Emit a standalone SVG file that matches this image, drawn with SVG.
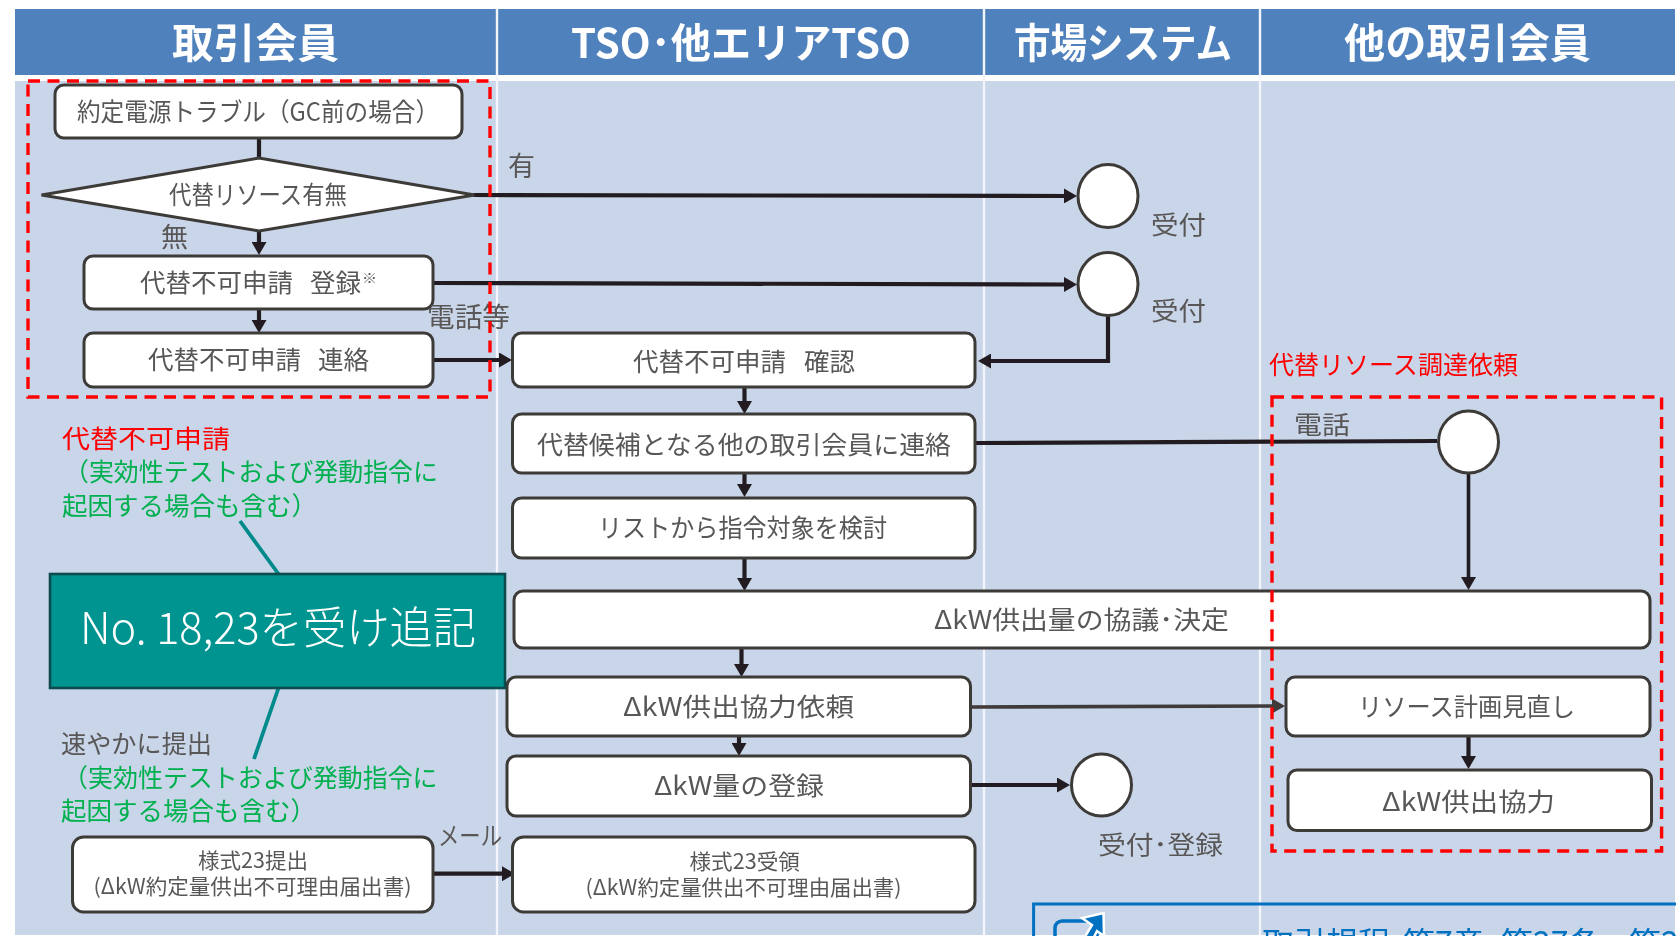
<svg xmlns="http://www.w3.org/2000/svg" width="1676" height="936" viewBox="0 0 1676 936">
<style>
text{font-family:"Noto Sans CJK JP","Noto Sans",sans-serif;fill:#595757;font-size:25.5px}
.h{fill:#fff;font-size:41px;font-weight:700}
.b{fill:#fff;stroke:#3e3a39;stroke-width:3}
.c{fill:none;stroke:#231f20;stroke-width:4.2}
.g{fill:none;stroke:#403b3a;stroke-width:3.6}
.d{fill:none;stroke:#f00;stroke-width:3.4;stroke-dasharray:12 7.5}
.r{fill:#f00}.n{fill:#00b050}
.s{font-size:21px}
.t{fill:none;stroke:#008a8c;stroke-width:3.8}
</style>
<defs>
<filter id="soft" filterUnits="userSpaceOnUse" x="0" y="0" width="1676" height="936"><feGaussianBlur stdDeviation="0.55"/></filter>
<marker id="a" markerUnits="userSpaceOnUse" markerWidth="13" markerHeight="15" viewBox="0 0 13 15" refX="5" refY="7.5" orient="auto"><path d="M0 0L13 7.5L0 15z" fill="#231f20"/></marker>
<marker id="a2" markerUnits="userSpaceOnUse" markerWidth="13" markerHeight="15" viewBox="0 0 13 15" refX="5" refY="7.5" orient="auto"><path d="M0 0L13 7.5L0 15z" fill="#403b3a"/></marker>
</defs>
<rect width="1676" height="936" fill="#fff"/>
<g filter="url(#soft)">
<g id="lanes">
<rect x="15" y="9" width="1660" height="66" fill="#4f81bd"/>
<rect x="15" y="81" width="1660" height="854" fill="#c9d5e8"/>
<path d="M497 9V935M984 9V935M1260 9V935" stroke="#f2f5fa" stroke-width="2.4" fill="none"/>
<text class="h" x="172" y="58" textLength="167" lengthAdjust="spacingAndGlyphs">取引会員</text>
<text class="h" x="571" y="58" textLength="340" lengthAdjust="spacingAndGlyphs">TSO･他エリアTSO</text>
<text class="h" x="1014" y="58" textLength="218" lengthAdjust="spacingAndGlyphs">市場システム</text>
<text class="h" x="1344" y="58" textLength="247" lengthAdjust="spacingAndGlyphs">他の取引会員</text>
</g>
<g id="connectors">
<path class="c" d="M259 138V158"/>
<path class="c" d="M259 231V247" marker-end="url(#a)"/>
<path class="c" d="M259 309V325" marker-end="url(#a)"/>
<path class="c" d="M473 195L1069 196" marker-end="url(#a)"/>
<path class="c" d="M433 283L1069 284.5" marker-end="url(#a)"/>
<path class="c" d="M433 360H504" marker-end="url(#a)"/>
<path class="c" d="M1108 315V361H986" marker-end="url(#a)"/>
<path class="c" d="M744.5 387V406" marker-end="url(#a)"/>
<path class="c" d="M975 443L1437 441"/>
<path class="c" d="M744.5 473V489" marker-end="url(#a)"/>
<path class="c" d="M744.5 558V583" marker-end="url(#a)"/>
<path class="c" style="stroke-width:3.6" d="M1468.5 473V582" marker-end="url(#a)"/>
<path class="c" d="M741.5 648V669" marker-end="url(#a)"/>
<path class="c" d="M739 736V748" marker-end="url(#a)"/>
<path class="g" d="M970.5 707L1277 706" marker-end="url(#a2)"/>
<path class="c" d="M970.5 785H1062" marker-end="url(#a)"/>
<path class="c" d="M1468.5 736V761" marker-end="url(#a)"/>
<path class="c" d="M433 873.7H507" marker-end="url(#a)"/>
<path class="t" d="M240 521L278.5 574M278.5 688L254 759"/>
</g>
<g id="n1"><rect class="b" x="55" y="85" width="407" height="53" rx="9"/><text x="77" y="121" textLength="362" lengthAdjust="spacingAndGlyphs">約定電源トラブル（GC前の場合）</text></g>
<g id="n2"><path class="b" d="M41.500 195L259 158L474.500 195L259 231Z"/><text x="169" y="204" textLength="178" lengthAdjust="spacingAndGlyphs">代替リソース有無</text></g>
<g id="n3"><rect class="b" x="84" y="256" width="349" height="53" rx="9"/><text x="140" y="292">代替不可申請 <tspan x="310">登録</tspan></text><text x="362" y="283" style="font-size:14px" textLength="15" lengthAdjust="spacingAndGlyphs">※</text></g>
<g id="n4"><rect class="b" x="84" y="333" width="349" height="54" rx="9"/><text x="148" y="369">代替不可申請 <tspan x="318">連絡</tspan></text></g>
<g id="n5"><rect class="b" x="512.5" y="333" width="462.500" height="54" rx="9"/><text x="633" y="371">代替不可申請 <tspan x="804">確認</tspan></text></g>
<g id="n6"><rect class="b" x="512.5" y="414" width="462.5" height="59" rx="9"/><text x="537" y="454" textLength="414" lengthAdjust="spacingAndGlyphs">代替候補となる他の取引会員に連絡</text></g>
<g id="n7"><rect class="b" x="512.5" y="498" width="462.5" height="60" rx="9"/><text x="598" y="537" textLength="289" lengthAdjust="spacingAndGlyphs">リストから指令対象を検討</text></g>
<g id="n8"><rect class="b" x="514" y="591" width="1136" height="57" rx="9"/><text x="934" y="629" textLength="295" lengthAdjust="spacingAndGlyphs">ΔkW供出量の協議･決定</text></g>
<g id="n9"><rect class="b" x="507" y="677" width="463.5" height="59" rx="9"/><text x="623" y="716" textLength="231" lengthAdjust="spacingAndGlyphs">ΔkW供出協力依頼</text></g>
<g id="n10"><rect class="b" x="507" y="756" width="463.5" height="60" rx="9"/><text x="654" y="795" textLength="170" lengthAdjust="spacingAndGlyphs">ΔkW量の登録</text></g>
<g id="n11"><rect class="b" x="512.5" y="837" width="462.5" height="75" rx="11"/><text class="s" x="689.5" y="869" textLength="110.5" lengthAdjust="spacingAndGlyphs">様式23受領</text><text class="s" x="585.500" y="895" textLength="316" lengthAdjust="spacingAndGlyphs">(ΔkW約定量供出不可理由届出書)</text></g>
<g id="n12"><rect class="b" x="72.500" y="837" width="360.500" height="75" rx="11"/><text class="s" x="198" y="868" textLength="110" lengthAdjust="spacingAndGlyphs">様式23提出</text><text class="s" x="93.500" y="894" textLength="318" lengthAdjust="spacingAndGlyphs">(ΔkW約定量供出不可理由届出書)</text></g>
<g id="n13"><rect class="b" x="1286" y="677" width="364" height="59" rx="9"/><text x="1358" y="716" textLength="217" lengthAdjust="spacingAndGlyphs">リソース計画見直し</text></g>
<g id="n14"><rect class="b" x="1288" y="770" width="363.5" height="60.5" rx="9"/><text x="1382" y="811" textLength="173" lengthAdjust="spacingAndGlyphs">ΔkW供出協力</text></g>
<g id="c1"><ellipse class="b" cx="1108" cy="196" rx="30" ry="31.5"/></g>
<g id="c2"><ellipse class="b" cx="1108" cy="284" rx="30" ry="31.5"/></g>
<g id="c3"><ellipse class="b" cx="1468.5" cy="442" rx="30" ry="31"/></g>
<g id="c4"><ellipse class="b" cx="1101.5" cy="785" rx="30" ry="31"/></g>
<g id="labels">
<text x="508" y="176" style="font-size:27px" textLength="27" lengthAdjust="spacingAndGlyphs">有</text>
<text x="161" y="247" style="font-size:27px" textLength="27" lengthAdjust="spacingAndGlyphs">無</text>
<text x="427" y="327" style="font-size:27px" textLength="83" lengthAdjust="spacingAndGlyphs">電話等</text>
<text x="1151" y="234" textLength="55" lengthAdjust="spacingAndGlyphs">受付</text>
<text x="1151" y="320" textLength="55" lengthAdjust="spacingAndGlyphs">受付</text>
<text x="1294" y="434" textLength="56" lengthAdjust="spacingAndGlyphs">電話</text>
<text x="1098" y="854" textLength="125" lengthAdjust="spacingAndGlyphs">受付･登録</text>
<text x="438" y="845" textLength="64" lengthAdjust="spacingAndGlyphs">メール</text>
<text class="r" x="1269" y="374" textLength="249" lengthAdjust="spacingAndGlyphs">代替リソース調達依頼</text>
<text class="r" x="62" y="448" textLength="168" lengthAdjust="spacingAndGlyphs">代替不可申請</text>
<text class="n" x="64" y="481" textLength="374" lengthAdjust="spacingAndGlyphs">（実効性テストおよび発動指令に</text>
<text class="n" x="62" y="515" textLength="255" lengthAdjust="spacingAndGlyphs">起因する場合も含む）</text>
<text x="61" y="753" textLength="151" lengthAdjust="spacingAndGlyphs">速やかに提出</text>
<text class="n" x="63" y="787" textLength="374.600" lengthAdjust="spacingAndGlyphs">（実効性テストおよび発動指令に</text>
<text class="n" x="61" y="820" textLength="255" lengthAdjust="spacingAndGlyphs">起因する場合も含む）</text>
</g>
<g id="note">
<rect x="50" y="574" width="455" height="114" fill="#009490" stroke="#0b4b4e" stroke-width="2.6"/>
<text x="80" y="644" style="font-size:44px;fill:#fff;font-weight:300" textLength="396" lengthAdjust="spacingAndGlyphs">No. 18,23を受け追記</text>
</g>
<g id="zones">
<rect class="d" x="28" y="81" width="462" height="316"/>
<rect class="d" x="1272" y="397" width="389.6" height="454"/>
</g>
<g id="ref">
<path d="M1033.6 945V904H1690" fill="none" stroke="#0070c0" stroke-width="3"/>
<rect x="1055" y="921" width="42" height="30" rx="7" fill="none" stroke="#0070c0" stroke-width="3.5"/>
<path d="M1080 945L1092 925L1082 918L1103.5 913L1104 936L1097 931L1090 945Z" fill="#0070c0" stroke="#fff" stroke-width="2.5"/>
<text y="955" style="font-size:32px;fill:#0070c0"><tspan x="1262">取引規程</tspan><tspan x="1403">第7章</tspan><tspan x="1501">第27条、</tspan><tspan x="1629">第2</tspan></text>
</g>
</g>
</svg>
